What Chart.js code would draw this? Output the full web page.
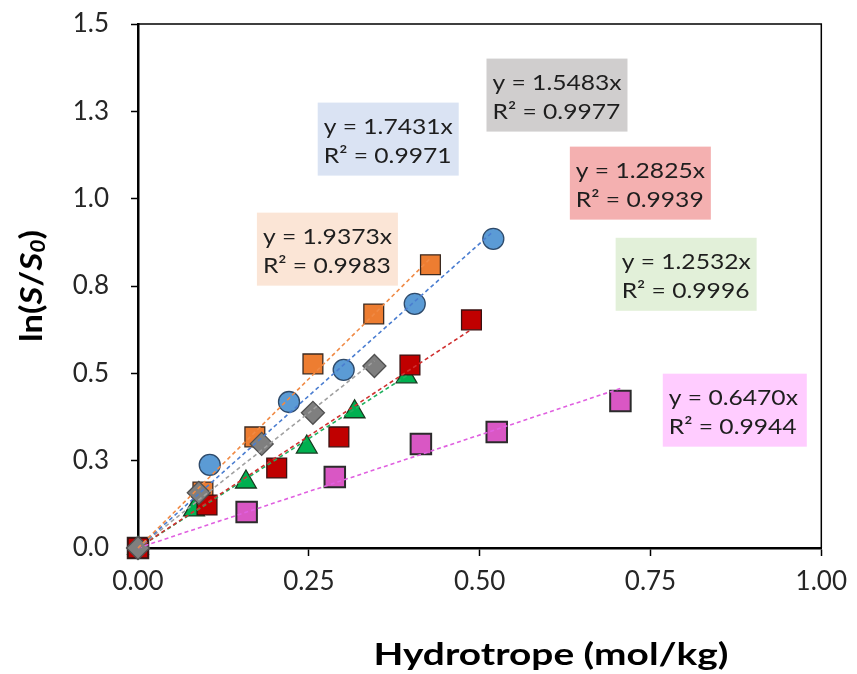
<!DOCTYPE html>
<html>
<head>
<meta charset="utf-8">
<script src="https://cdn.jsdelivr.net/npm/chart.js@4.4.1/dist/chart.umd.min.js"></script>
<style>
  html, body { margin: 0; padding: 0; background: #fff; }
</style>
</head>
<body>
<canvas id="myChart" width="857" height="674"></canvas>
<script>
// tick labels (Excel shows one decimal on the y axis)
var xTickLabels = ['0.00', '0.25', '0.50', '0.75', '1.00'];
var yTickLabels = ['0.0', '0.3', '0.5', '0.8', '1.0', '1.3', '1.5'];

// measured points, x = hydrotrope (mol/kg), y = ln(S/S0)
var orangeX = [0, 0.095, 0.171, 0.256, 0.345, 0.428];
var orangeY = [0, 0.160, 0.318, 0.527, 0.670, 0.811];
var blueX = [0, 0.105, 0.221, 0.301, 0.405, 0.520];
var blueY = [0, 0.238, 0.418, 0.510, 0.699, 0.885];
var grayX = [0, 0.089, 0.181, 0.256, 0.346];
var grayY = [0, 0.158, 0.298, 0.387, 0.521];
var redX = [0, 0.101, 0.203, 0.294, 0.398, 0.488];
var redY = [0, 0.123, 0.229, 0.318, 0.524, 0.653];
var greenX = [0, 0.082, 0.158, 0.247, 0.317, 0.393];
var greenY = [0, 0.109, 0.189, 0.289, 0.390, 0.490];
var pinkX = [0, 0.159, 0.288, 0.414, 0.525, 0.706];
var pinkY = [0, 0.103, 0.203, 0.298, 0.332, 0.421];

// linear trendlines through the origin (orange, blue, gray, red, green, pink)
var trendSlopes = [1.9373, 1.7431, 1.5483, 1.2825, 1.2532, 0.6470];
var trendR2 = [0.9983, 0.9971, 0.9977, 0.9939, 0.9996, 0.9944];

var seriesX = [orangeX, blueX, grayX, redX, greenX, pinkX];
var seriesY = [orangeY, blueY, grayY, redY, greenY, pinkY];

// look of each series
var styles = [
  { fill: '#ED7D31', edge: '#3b2a20', line: '#F08A45', shape: 'rect', r: 14, order: 4, box: '#FBE5D6' },
  { fill: '#5B9BD5', edge: '#2E4A6A', line: '#4A7DD0', shape: 'circle', r: 10.5, order: 5, box: '#DAE3F3' },
  { fill: '#7F7F7F', edge: '#505050', line: '#A0A0A0', shape: 'rectRot', r: 11.5, order: 1, box: '#D0CECE' },
  { fill: '#C00000', edge: '#3a1010', line: '#D03030', shape: 'rect', r: 14, order: 2, box: '#F4B0B0' },
  { fill: '#00B050', edge: '#173a20', line: '#20B060', shape: 'triangle', r: 12, order: 3, box: '#E2F0D9' },
  { fill: '#D957C4', edge: '#2b2b2b', line: '#E060E0', shape: 'rect', r: 14.5, order: 6, box: '#FFCCFF' }
];

// equation boxes: top-left corner in data units, size in px
var boxAnchors = [
  { x: 0.174, y: 0.960, w: 141 },
  { x: 0.263, y: 1.275, w: 141 },
  { x: 0.510, y: 1.401, w: 141 },
  { x: 0.632, y: 1.149, w: 141 },
  { x: 0.699, y: 0.888, w: 141 },
  { x: 0.768, y: 0.499, w: 144 }
];

var datasets = [];
for (var i = 0; i < seriesX.length; i++) {
  var pts = [];
  for (var j = 0; j < seriesX[i].length; j++) pts.push({ x: seriesX[i][j], y: seriesY[i][j] });
  var st = styles[i];
  datasets.push({
    data: pts,
    pointStyle: st.shape,
    pointRadius: st.r,
    backgroundColor: st.fill,
    borderColor: st.edge,
    borderWidth: i === 5 ? 2 : 1.3,
    showLine: false,
    clip: false,
    order: st.order
  });
  var xmax = Math.max.apply(null, seriesX[i]);
  datasets.push({
    data: [{ x: 0, y: 0 }, { x: xmax, y: trendSlopes[i] * xmax }],
    showLine: true,
    borderColor: st.line,
    borderWidth: 1.6,
    borderDash: [4, 3],
    pointRadius: 0,
    clip: false,
    order: 0
  });
}

var extras = {
  id: 'extras',
  afterDraw: function (chart) {
    var ctx = chart.ctx, a = chart.chartArea;
    var xs = chart.scales.x, ys = chart.scales.y;
    ctx.save();
    // top and right frame
    ctx.strokeStyle = '#000';
    ctx.lineWidth = 1.5;
    ctx.beginPath();
    ctx.moveTo(a.left, a.top);
    ctx.lineTo(a.right, a.top);
    ctx.lineTo(a.right, a.bottom);
    ctx.stroke();

    // equation boxes
    for (var i = 0; i < boxAnchors.length; i++) {
      var b = boxAnchors[i];
      var bx = xs.getPixelForValue(b.x), by = ys.getPixelForValue(b.y);
      ctx.fillStyle = styles[i].box;
      ctx.fillRect(bx, by, b.w, 73);
      ctx.fillStyle = '#1e1e1e';
      ctx.font = '22px Lato';
      ctx.textBaseline = 'middle';
      ctx.textAlign = 'left';
      var l1 = 'y = ' + trendSlopes[i].toFixed(4) + 'x';
      var l2 = 'R\u00B2 = ' + trendR2[i].toFixed(4);
      var sx = 1.12;
      ctx.save();
      ctx.translate(bx + 6, by);
      ctx.scale(sx, 1);
      ctx.fillText(l1, 0, 24);
      ctx.fillText(l2, 0, 53);
      ctx.restore();
    }

    // x axis title
    ctx.fillStyle = '#000';
    ctx.font = 'bold 30px Lato';
    ctx.textAlign = 'center';
    ctx.textBaseline = 'middle';
    var xt = 'Hydrotrope (mol/kg)';
    var k = 355 / ctx.measureText(xt).width;
    ctx.save();
    ctx.translate(551, 655);
    ctx.scale(k, 1);
    ctx.fillText(xt, 0, 0);
    ctx.restore();

    // y axis title ln(S/S0) with italic S and subscript 0
    var parts = [
      { t: 'ln(', f: 'bold 30px Lato', dy: 0 },
      { t: 'S', f: 'italic bold 30px Lato', dy: 0 },
      { t: '/', f: 'bold 30px Lato', dy: 0 },
      { t: 'S', f: 'italic bold 30px Lato', dy: 0 },
      { t: '0', f: 'italic bold 20px Lato', dy: 7 },
      { t: ')', f: 'bold 30px Lato', dy: 0 }
    ];
    var total = 0;
    parts.forEach(function (p) { ctx.font = p.f; p.w = ctx.measureText(p.t).width; total += p.w; });
    var ky = 1.15;
    ctx.save();
    ctx.translate(32, (a.top + a.bottom) / 2);
    ctx.rotate(-Math.PI / 2);
    ctx.scale(ky, 1);
    ctx.textAlign = 'left';
    var px = -total / 2;
    parts.forEach(function (p) {
      ctx.font = p.f;
      ctx.fillText(p.t, px, p.dy);
      px += p.w;
    });
    ctx.restore();
    ctx.restore();
  }
};

var ctx = document.getElementById('myChart');
var myChart = new Chart(ctx, {
  type: 'scatter',
  data: { datasets: datasets },
  options: {
    responsive: false,
    animation: false,
    devicePixelRatio: 1,
    layout: { padding: { top: 24, right: 35, left: 0, bottom: 0 } },
    plugins: { legend: { display: false }, tooltip: { enabled: false } },
    scales: {
      x: {
        type: 'linear',
        min: 0,
        max: 1,
        afterFit: function (s) { s.height = 126; },
        afterBuildTicks: function (s) {
          s.ticks = xTickLabels.map(function (t) { return { value: parseFloat(t) }; });
        },
        ticks: {
          callback: function (v, i) { return xTickLabels[i]; },
          font: { family: 'Lato', size: 26 },
          color: '#262626',
          padding: 10,
          maxRotation: 0
        },
        grid: { drawOnChartArea: false, drawTicks: true, tickLength: 8, tickColor: '#000', tickWidth: 1.5 },
        border: { display: true, color: '#000', width: 2.5 }
      },
      y: {
        type: 'linear',
        min: 0,
        max: 1.5,
        afterFit: function (s) { s.width = 138; s.paddingTop = 0; s.paddingBottom = 0; },
        afterBuildTicks: function (s) {
          s.ticks = yTickLabels.map(function (t, i) { return { value: i * 0.25 }; });
        },
        ticks: {
          callback: function (v, i) { return yTickLabels[i]; },
          font: { family: 'Lato', size: 26 },
          color: '#262626',
          padding: 22
        },
        grid: { drawOnChartArea: false, drawTicks: true, tickLength: 7, tickColor: '#000', tickWidth: 1.5 },
        border: { display: true, color: '#000', width: 2.5 }
      }
    }
  },
  plugins: [extras]
});
</script>
</body>
</html>
